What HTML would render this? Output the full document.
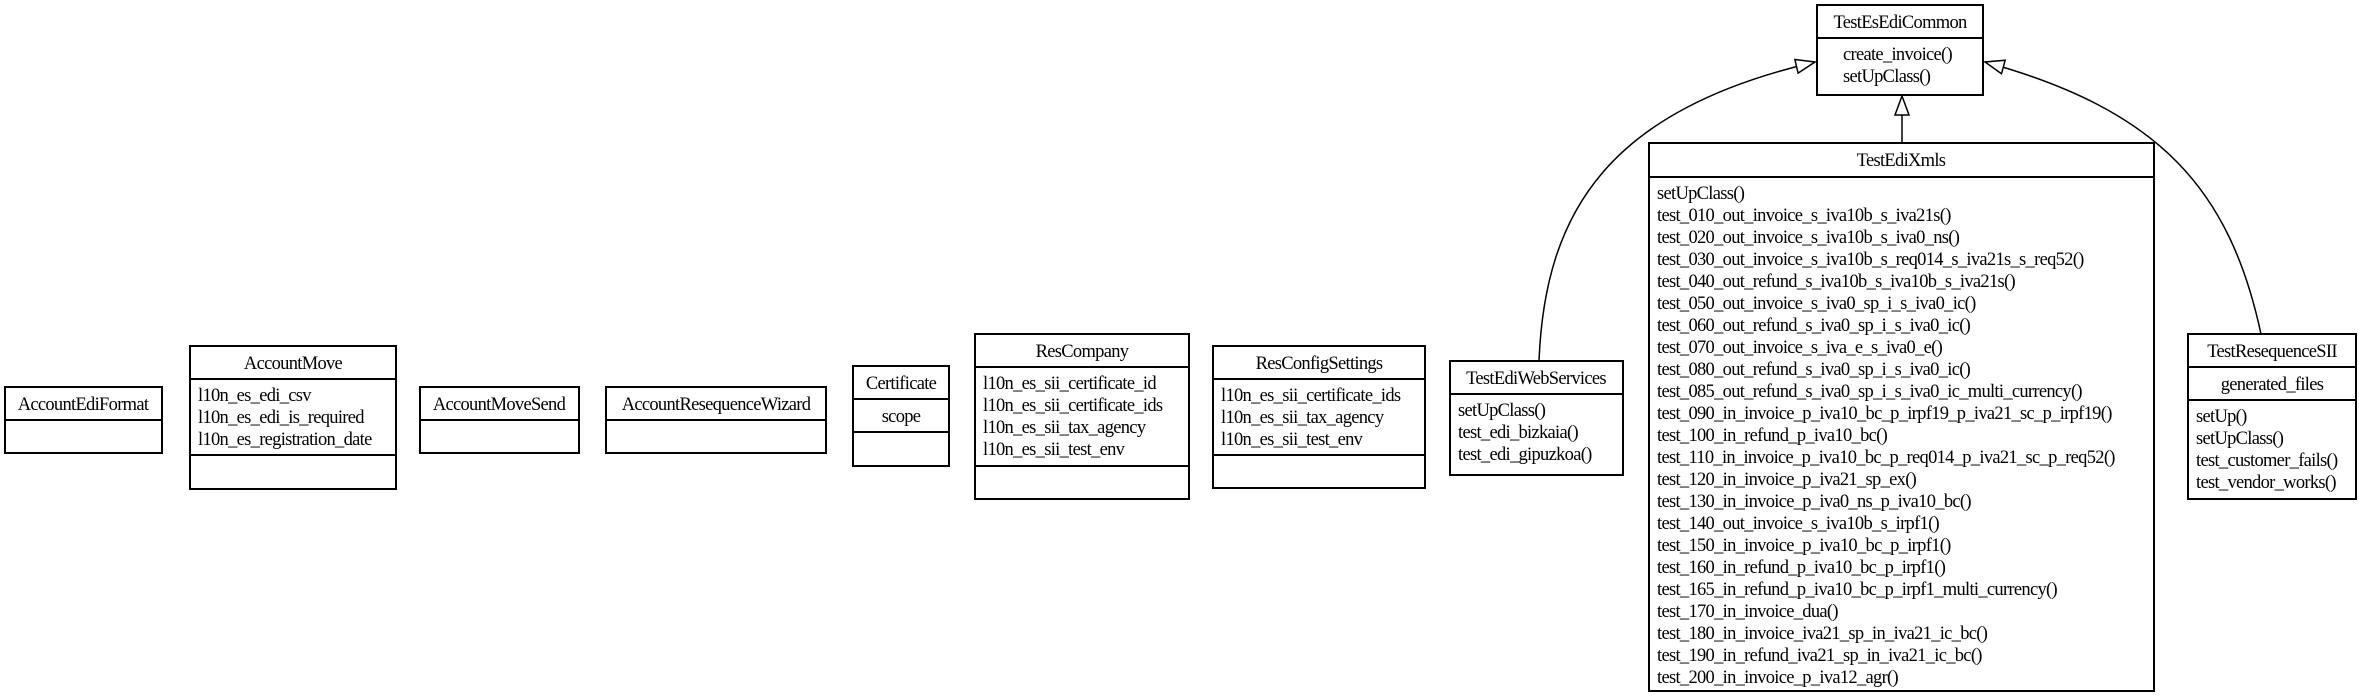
<!DOCTYPE html>
<html><head><meta charset="utf-8"><style>
html,body{margin:0;padding:0;background:#fff}
svg{display:block}
text{font-family:"Liberation Serif",serif;font-size:18.5px;fill:#000;letter-spacing:-0.7px}
.c{text-anchor:middle}
rect{fill:#fff;stroke:#000;stroke-width:2}
line{stroke:#000;stroke-width:2}
path.e{fill:none;stroke:#000;stroke-width:1.5}
</style></head><body>
<svg width="2359" height="698" viewBox="0 0 2359 698" xmlns="http://www.w3.org/2000/svg">
<defs><marker id="tri" markerWidth="22" markerHeight="16" refX="20" refY="8" orient="auto" markerUnits="userSpaceOnUse"><path d="M1,1 L20,8 L1,15 Z" fill="#fff" stroke="#000" stroke-width="1.5"/></marker></defs>

<rect x="5" y="387" width="157" height="66"/><line x1="5" y1="420" x2="162" y2="420"/>
<text class="c" x="83" y="410">AccountEdiFormat</text>

<rect x="190" y="346" width="206" height="143"/><line x1="190" y1="379" x2="396" y2="379"/><line x1="190" y1="455" x2="396" y2="455"/>
<text class="c" x="293" y="369">AccountMove</text>
<text x="198" y="401">l10n_es_edi_csv</text><text x="198" y="423">l10n_es_edi_is_required</text><text x="198" y="445">l10n_es_registration_date</text>

<rect x="420" y="387" width="159" height="66"/><line x1="420" y1="420" x2="579" y2="420"/>
<text class="c" x="499" y="410">AccountMoveSend</text>

<rect x="606" y="387" width="220" height="66"/><line x1="606" y1="420" x2="826" y2="420"/>
<text class="c" x="716" y="410">AccountResequenceWizard</text>

<rect x="853" y="366" width="96" height="100"/><line x1="853" y1="399" x2="949" y2="399"/><line x1="853" y1="432" x2="949" y2="432"/>
<text class="c" x="901" y="389">Certificate</text><text class="c" x="901" y="422">scope</text>

<rect x="975" y="334" width="214" height="165"/><line x1="975" y1="367" x2="1189" y2="367"/><line x1="975" y1="466" x2="1189" y2="466"/>
<text class="c" x="1082" y="357">ResCompany</text>
<text x="983" y="389">l10n_es_sii_certificate_id</text><text x="983" y="411">l10n_es_sii_certificate_ids</text><text x="983" y="433">l10n_es_sii_tax_agency</text><text x="983" y="455">l10n_es_sii_test_env</text>

<rect x="1213" y="346" width="212" height="142"/><line x1="1213" y1="379" x2="1425" y2="379"/><line x1="1213" y1="455" x2="1425" y2="455"/>
<text class="c" x="1319" y="369">ResConfigSettings</text>
<text x="1221" y="401">l10n_es_sii_certificate_ids</text><text x="1221" y="423">l10n_es_sii_tax_agency</text><text x="1221" y="445">l10n_es_sii_test_env</text>

<rect x="1450" y="361" width="173" height="114"/><line x1="1450" y1="394" x2="1623" y2="394"/>
<text class="c" x="1536" y="384">TestEdiWebServices</text>
<text x="1458" y="416">setUpClass()</text><text x="1458" y="438">test_edi_bizkaia()</text><text x="1458" y="460">test_edi_gipuzkoa()</text>

<rect x="1817" y="5" width="166" height="90"/><line x1="1817" y1="38" x2="1983" y2="38"/>
<text class="c" x="1900" y="28">TestEsEdiCommon</text>
<text x="1843" y="60">create_invoice()</text><text x="1843" y="82">setUpClass()</text>

<rect x="1649" y="143" width="505" height="548"/><line x1="1649" y1="177" x2="2154" y2="177"/>
<text class="c" x="1901" y="166">TestEdiXmls</text>
<g transform="translate(1657,0)">
<text y="199">setUpClass()</text>
<text y="221">test_010_out_invoice_s_iva10b_s_iva21s()</text>
<text y="243">test_020_out_invoice_s_iva10b_s_iva0_ns()</text>
<text y="265">test_030_out_invoice_s_iva10b_s_req014_s_iva21s_s_req52()</text>
<text y="287">test_040_out_refund_s_iva10b_s_iva10b_s_iva21s()</text>
<text y="309">test_050_out_invoice_s_iva0_sp_i_s_iva0_ic()</text>
<text y="331">test_060_out_refund_s_iva0_sp_i_s_iva0_ic()</text>
<text y="353">test_070_out_invoice_s_iva_e_s_iva0_e()</text>
<text y="375">test_080_out_refund_s_iva0_sp_i_s_iva0_ic()</text>
<text y="397">test_085_out_refund_s_iva0_sp_i_s_iva0_ic_multi_currency()</text>
<text y="419">test_090_in_invoice_p_iva10_bc_p_irpf19_p_iva21_sc_p_irpf19()</text>
<text y="441">test_100_in_refund_p_iva10_bc()</text>
<text y="463">test_110_in_invoice_p_iva10_bc_p_req014_p_iva21_sc_p_req52()</text>
<text y="485">test_120_in_invoice_p_iva21_sp_ex()</text>
<text y="507">test_130_in_invoice_p_iva0_ns_p_iva10_bc()</text>
<text y="529">test_140_out_invoice_s_iva10b_s_irpf1()</text>
<text y="551">test_150_in_invoice_p_iva10_bc_p_irpf1()</text>
<text y="573">test_160_in_refund_p_iva10_bc_p_irpf1()</text>
<text y="595">test_165_in_refund_p_iva10_bc_p_irpf1_multi_currency()</text>
<text y="617">test_170_in_invoice_dua()</text>
<text y="639">test_180_in_invoice_iva21_sp_in_iva21_ic_bc()</text>
<text y="661">test_190_in_refund_iva21_sp_in_iva21_ic_bc()</text>
<text y="683">test_200_in_invoice_p_iva12_agr()</text>
</g>

<rect x="2188" y="334" width="168" height="165"/><line x1="2188" y1="367" x2="2356" y2="367"/><line x1="2188" y1="400" x2="2356" y2="400"/>
<text class="c" x="2272" y="357">TestResequenceSII</text>
<text class="c" x="2272" y="390">generated_files</text>
<text x="2196" y="422">setUp()</text><text x="2196" y="444">setUpClass()</text><text x="2196" y="466">test_customer_fails()</text><text x="2196" y="488">test_vendor_works()</text>

<path class="e" d="M1902,143 L1902,96" marker-end="url(#tri)"/>
<path class="e" d="M1539,361 C1545,210 1610,110 1815,62" marker-end="url(#tri)"/>
<path class="e" d="M2261,334 C2230,190 2160,110 1985,62" marker-end="url(#tri)"/>
</svg>
</body></html>
